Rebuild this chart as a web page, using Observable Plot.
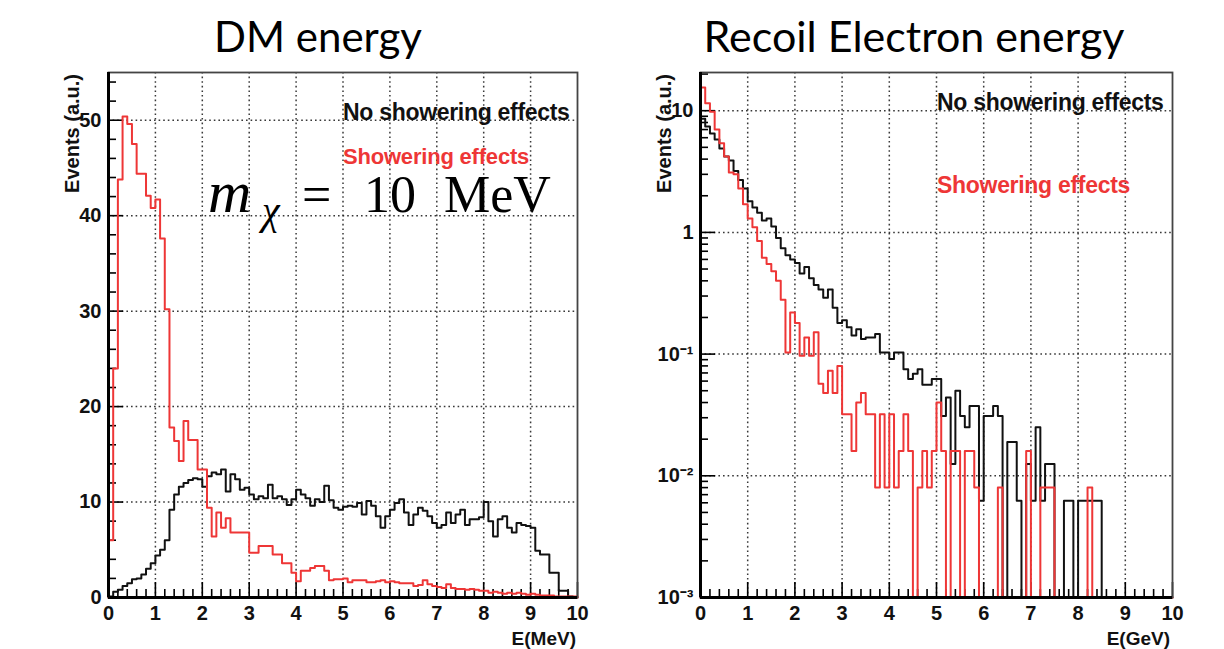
<!DOCTYPE html>
<html><head><meta charset="utf-8">
<script src="https://cdn.jsdelivr.net/npm/d3@7"></script>
<script src="https://cdn.jsdelivr.net/npm/@observablehq/plot@0.6"></script>
<style>
body{margin:0;background:#fff;}
#root{position:relative;width:1224px;height:649px;overflow:hidden;}
#root > svg, #root > figure{position:absolute;top:0;margin:0;}
</style></head><body><div id="root"></div>
<script>
// ---------- data (bin contents, 100 bins of width 0.1 on 0..10) ----------
const binWidth = 0.1;
const xTicks = [0,1,2,3,4,5,6,7,8,9,10];
const xGrid = [1,2,3,4,5,6,7,8,9];
const dmYTicks = [0,10,20,30,40,50];
const dmYGrid = [10,20,30,40,50];
const elYTicks = [1e-3,1e-2,1e-1,1,10];
const elYTickLabels = ["10\u207B\u00B3","10\u207B\u00B2","10\u207B\u00B9","1","10"];
const elYGrid = [1e-2,1e-1,1,10];

// DM energy, no showering effects (black)
const dmNoShower = [
 0.1,0.6,0.8,1.2,1.5,1.9,2.0,2.4,3.0,3.6,
 4.4,5.0,6.0,9.2,10.8,11.6,12.0,12.3,12.5,12.4,
 11.6,12.7,13.1,12.9,13.4,11.1,12.9,12.4,11.3,11.5,
 10.8,10.3,10.6,10.4,11.8,10.4,10.6,10.3,9.7,10.3,
 11.3,10.8,10.4,9.6,10.3,10.0,11.7,10.2,9.4,9.2,
 9.5,9.6,9.5,9.9,8.7,10.1,9.6,8.5,7.3,8.5,
 9.2,9.9,10.3,8.9,7.6,8.7,9.4,9.1,8.5,7.8,
 7.3,7.6,8.9,7.8,8.7,9.2,7.6,8.2,8.2,8.4,
 10.0,8.0,6.4,8.2,8.5,7.3,6.8,7.8,7.6,7.5,
 7.3,4.9,4.5,4.5,2.6,2.6,0.7,0.7,0.1,0.0
];
// DM energy, showering effects (red)
const dmShower = [
 6.0,24.0,43.8,50.4,49.6,47.5,44.4,44.4,42.1,40.8,
 41.7,37.6,30.2,17.8,16.4,14.3,18.5,16.5,16.5,13.4,
 13.4,9.4,6.4,8.9,7.3,8.3,6.8,6.8,6.8,6.8,
 4.7,4.7,5.4,5.4,5.4,4.5,4.5,3.6,3.6,2.6,
 1.7,2.8,2.8,3.1,3.3,3.3,2.8,1.8,1.9,1.9,
 2.0,1.6,1.8,1.8,1.8,1.6,1.6,1.7,1.8,1.6,
 1.7,1.6,1.5,1.5,1.5,1.2,1.3,1.8,1.4,1.2,
 1.1,1.0,1.4,1.0,0.9,0.9,0.8,0.9,0.8,0.7,
 0.7,0.5,0.6,0.5,0.4,0.5,0.4,0.5,0.4,0.3,
 0.4,0.3,0.2,0.2,0.2,0.1,0.1,0.1,0.1,0.1
];
// Recoil electron energy, no showering effects (black)
const elNoShower = [
 8.6,7.4,6.5,5.8,4.9,4.2,3.9,3.2,2.7,2.3,
 1.8,1.6,1.45,1.25,1.3,1.12,0.9,0.74,0.65,0.6,
 0.56,0.46,0.52,0.42,0.37,0.34,0.29,0.34,0.24,0.18,
 0.19,0.166,0.142,0.16,0.133,0.137,0.137,0.146,0.103,0.103,
 0.091,0.103,0.103,0.075,0.0625,0.069,0.075,0.056,0.056,0.0625,
 0.0625,0.031,0.044,0.0125,0.05,0.031,0.025,0.0375,0.0375,0.00625,
 0.031,0.031,0.0375,0.031,0,0.019,0.019,0.00625,0,0.0125,
 0.00625,0.025,0.00625,0.0125,0.0125,0,0,0.00625,0.00625,0,
 0.00625,0.00625,0.00625,0.00625,0.00625,0,0,0,0,0,
 0,0,0,0,0,0,0,0,0,0
];
// Recoil electron energy, showering effects (red)
const elShower = [
 15.5,11.5,9.8,7.0,5.4,4.2,3.1,3.0,2.3,1.7,
 1.3,1.1,0.85,0.62,0.55,0.48,0.40,0.28,0.103,0.22,
 0.18,0.097,0.137,0.097,0.151,0.057,0.048,0.073,0.048,0.080,
 0.032,0.032,0.016,0.040,0.048,0.032,0.032,0.008,0.032,0.008,
 0.032,0.008,0.016,0.032,0.016,0,0.008,0.016,0.008,0.016,
 0.040,0.016,0,0.016,0.016,0,0.016,0.016,0.008,0,
 0,0,0,0.008,0,0,0,0,0,0.016,
 0,0,0.008,0.008,0.008,0,0,0,0,0,
 0,0,0.008,0,0,0,0,0,0,0,
 0,0,0,0,0,0,0,0,0,0
];

const BLACK = "#111", RED = "#ee3636";
const H = 649, MT = 72, MB = 52;

function stepData(values, floor) {
  const n = values.length;
  const pts = [{x: 0, y: floor}];
  values.forEach((v, i) => pts.push({x: i * binWidth, y: Math.max(v, floor)}));
  pts.push({x: n * binWidth, y: Math.max(values[n - 1], floor)});
  pts.push({x: n * binWidth, y: floor});
  return pts;
}
const xMinor = d3.range(0, 50).map(i => i / 5).filter(v => !xTicks.includes(v));

function panel({width, ml, mr, y, yTicks, yTickFormat, yGrid, yMajor, yMinor, black, red, floor}) {
  const fw = width - ml - mr, fh = H - MT - MB;
  const grid = {stroke: "#222", strokeDasharray: "1.6,3", strokeWidth: 1.5, strokeOpacity: 0.9};
  return Plot.plot({
    width, height: H, marginLeft: ml, marginRight: mr, marginTop: MT, marginBottom: MB,
    style: {fontFamily: "'Liberation Sans', Arial, sans-serif", fontWeight: "bold", fontSize: "20px", color: "#111", background: "transparent", overflow: "visible"},
    x: {domain: [0, 10], ticks: xTicks, tickSize: 0, tickPadding: 8, label: null},
    y: {...y, ticks: yTicks, tickFormat: yTickFormat, tickSize: 0, tickPadding: 7, label: null},
    marks: [
      Plot.ruleX(xGrid, grid),
      Plot.ruleY(yGrid, grid),
      Plot.ruleX(xTicks, {insetTop: fh - 15, stroke: "#000", strokeWidth: 1.6}),
      Plot.ruleX(xMinor, {insetTop: fh - 8, stroke: "#000", strokeWidth: 1.6}),
      Plot.ruleY(yMajor, {insetRight: fw - 15, stroke: "#000", strokeWidth: 1.6}),
      Plot.ruleY(yMinor, {insetRight: fw - 8, stroke: "#000", strokeWidth: 1.6}),
      Plot.line(stepData(black, floor), {x: "x", y: "y", curve: "step-after", stroke: BLACK, strokeWidth: 2}),
      Plot.line(stepData(red, floor), {x: "x", y: "y", curve: "step-after", stroke: RED, strokeWidth: 2}),
      Plot.frame({stroke: "#444", strokeWidth: 1.8}),
      Plot.ruleX([0], {stroke: "#000", strokeWidth: 3}),
      Plot.ruleY([floor], {stroke: "#000", strokeWidth: 3})
    ]
  });
}

const root = document.getElementById("root");

const dmMinor = d3.range(0, 56, 2).filter(v => !dmYTicks.includes(v));
const left = panel({
  width: 620, ml: 108, mr: 43,
  y: {domain: [0, 55]}, yTicks: dmYTicks, yTickFormat: d => String(d), yGrid: dmYGrid,
  yMajor: dmYTicks, yMinor: dmMinor, black: dmNoShower, red: dmShower, floor: 0
});
left.style.left = "0px";
root.appendChild(left);

const elMinor = [];
elYTicks.forEach(d => { for (let k = 2; k <= 9; k++) if (d * k <= 20.6) elMinor.push(d * k); });
const right = panel({
  width: 612, ml: 88, mr: 52,
  y: {type: "log", domain: [1e-3, 20.6]}, yTicks: elYTicks,
  yTickFormat: d => elYTickLabels[elYTicks.findIndex(t => Math.abs(t - d) / t < 1e-6)],
  yGrid: elYGrid, yMajor: elYTicks, yMinor: elMinor, black: elNoShower, red: elShower, floor: 1e-3
});
right.style.left = "612px";
root.appendChild(right);

// ---------- text overlay ----------
const ov = d3.select(root).append("svg").attr("width", 1224).attr("height", 649)
  .style("position", "absolute").style("left", "0px").style("top", "0px").style("pointer-events", "none");
const sans = "'Liberation Sans', Arial, sans-serif";
function txt(x, y, s, o = {}) {
  const t = ov.append("text").attr("x", x).attr("y", y).text(s)
    .attr("font-family", o.family || sans).attr("font-size", o.size || 21)
    .attr("font-weight", o.weight || "bold").attr("fill", o.fill || "#111")
    .attr("text-anchor", o.anchor || "start");
  if (o.transform) t.attr("transform", o.transform).attr("x", 0).attr("y", 0);
  if (o.ls) t.attr("letter-spacing", o.ls);
  return t;
}
const titles = ["DM energy", "Recoil Electron energy"];
txt(318, 52, titles[0], {family: "Lato, 'Open Sans', sans-serif", size: 42, weight: "normal", fill: "#000", anchor: "middle"});
txt(914, 52, titles[1], {family: "Lato, 'Open Sans', sans-serif", size: 43, weight: "normal", fill: "#000", anchor: "middle"});

const legendLabels = ["No showering effects", "Showering effects"];
txt(343, 120, legendLabels[0], {size: 23, ls: -0.3});
txt(343, 164, legendLabels[1], {size: 22, fill: RED, ls: -0.2});
txt(937, 110, legendLabels[0], {size: 23, ls: -0.3});
txt(937, 193, legendLabels[1], {size: 23, fill: RED, ls: -0.3});

const axisTitles = ["Events (a.u.)", "E(MeV)", "E(GeV)"];
txt(0, 0, axisTitles[0], {size: 20, anchor: "end", transform: "translate(79,74) rotate(-90)"});
txt(0, 0, axisTitles[0], {size: 20, anchor: "end", transform: "translate(671,74) rotate(-90)"});
txt(576, 645, axisTitles[1], {size: 19, anchor: "end"});
txt(1170, 645, axisTitles[2], {size: 19, anchor: "end"});

// mass annotation (m_chi = 10 MeV)
const massParts = {m: "m", sub: "\u03C7", eq: "=", val: "10", unit: "MeV"};
const m = ov.append("text").attr("y", 212)
  .attr("font-family", "'Liberation Serif', 'DejaVu Serif', serif").attr("font-size", 52).attr("fill", "#000");
m.append("tspan").attr("x", 208).attr("font-style", "italic").attr("font-size", 60).text(massParts.m);
m.append("tspan").attr("x", 262).attr("dy", 12).attr("font-style", "italic").attr("font-size", 40).text(massParts.sub);
m.append("tspan").attr("x", 302).attr("dy", -12).text(massParts.eq);
m.append("tspan").attr("x", 364).text(massParts.val);
m.append("tspan").attr("x", 444).text(massParts.unit);
</script></body></html>
